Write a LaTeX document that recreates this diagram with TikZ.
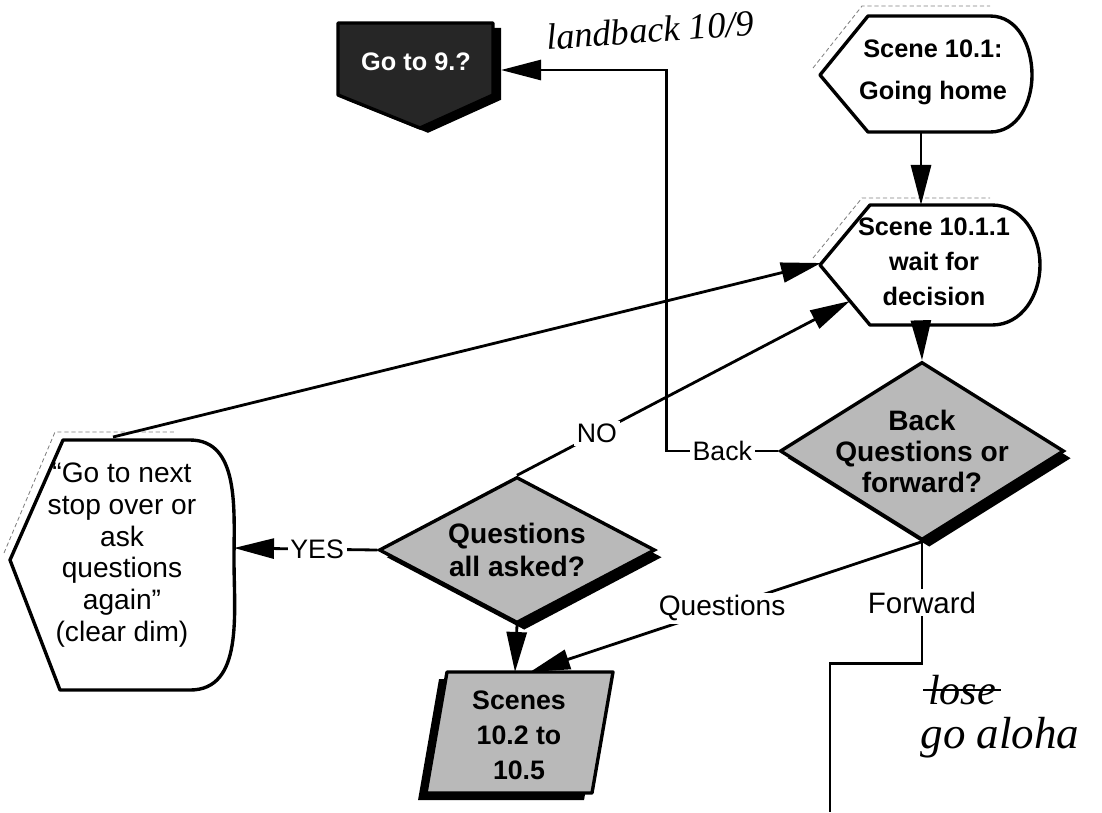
\documentclass[tikz,border=0pt]{standalone}
\usepackage{fontspec}
\setmainfont{Liberation Sans}
\newfontfamily\handfont{Liberation Serif}
\usetikzlibrary{arrows.meta,shapes.geometric,shadows}

\begin{document}
\begin{tikzpicture}[x=0.025cm, y=-0.025cm,
    box/.style={line width=2.4pt, line join=round},
    ghost/.style={gray, densely dashed, line width=0.6pt},
    flow/.style={line width=2pt, -{Triangle[length=1cm,width=0.5cm]}},
    wire/.style={line width=2pt},
    lbl/.style={fill=white, inner sep=2pt, font=\fontsize{19}{21}\selectfont},
    scene/.style={align=center, font=\bfseries\fontsize{18}{30}\selectfont},
    decision/.style={diamond, draw, line width=2.4pt, fill=gray!55, inner sep=0pt,
      general shadow={fill=black, shadow xshift=0.18cm, shadow yshift=-0.18cm}},
    hand/.style={font=\handfont\itshape\fontsize{26}{28}\selectfont}]
  \useasboundingbox (0,0) rectangle (1102,812);

  % off-page connector
  \path[box, draw, fill=black!85, general shadow={fill=black, shadow xshift=0.2cm, shadow yshift=-0.12cm}]
    (338,23) -- (493,23) -- (493,95) -- (420,128) -- (338,95) -- cycle;
  \node[scene, text=white] (goto) at (416,62) {Go to 9.?};
  \coordinate (goto-e) at (501,70);

  % scene 10.1
  \draw[ghost] (813,68) -- (862,6) -- (990,6);
  \draw[box, fill=white] (820,75) -- (868,16) -- (990,16) to[out=0,in=90] (1032,75)
    to[out=-90,in=0] (990,132) -- (868,132) -- cycle;
  \node[scene] (sc1) at (933,72) {Scene 10.1:\\Going home};
  \coordinate (sc1-s) at (921,132);

  % scene 10.1.1
  \draw[ghost] (813,258) -- (862,198) -- (990,198);
  \draw[box, fill=white] (820,265) -- (870,205) -- (992,205) to[out=0,in=90] (1040,265)
    to[out=-90,in=0] (992,325) -- (870,325) -- cycle;
  \node[scene, font=\bfseries\fontsize{18}{25}\selectfont] (sc11) at (934,262) {Scene 10.1.1\\wait for\\decision};
  \coordinate (sc11-n) at (921,205);
  \coordinate (sc11-s) at (921,325);
  \coordinate (sc11-w) at (821,263);
  \coordinate (sc11-sw) at (850,301);

  % ask again
  \draw[ghost] (4,553) -- (55,432) -- (175,432);
  \draw[box, fill=white] (10,560) -- (63,440) -- (190,440) to[out=0,in=90] (234,560)
    to[out=-90,in=0] (190,690) -- (60,690) -- cycle;
  \node[align=center, font=\fontsize{20}{22.5}\selectfont] (again) at (122,555)
    {“Go to next\\stop over or\\ask\\questions\\again”\\(clear dim)};
  \coordinate (again-n) at (113,437);
  \coordinate (again-e) at (234,548);

  % decisions
  \node[decision, minimum width=7.1cm, minimum height=4.45cm] (decide) at (922,451) {};
  \node[scene, font=\bfseries\fontsize{20}{22}\selectfont] at (decide) {Back\\Questions or\\forward?};
  \node[decision, minimum width=6.9cm, minimum height=3.65cm] (asked) at (517,550) {};
  \node[scene, font=\bfseries\fontsize{20}{23}\selectfont] at (asked) {Questions\\all asked?};

  % scenes 10.2 to 10.5
  \path[box, draw, fill=gray!55, general shadow={fill=black, shadow xshift=-0.2cm, shadow yshift=-0.18cm}]
    (447,672) -- (613,672) -- (592,793) -- (426,793) -- cycle;
  \node[scene, font=\bfseries\fontsize{19}{25}\selectfont] (scenes) at (519,735) {Scenes\\10.2 to\\10.5};
  \coordinate (scenes-n) at (515,672);
  \coordinate (scenes-ne) at (530,672);
  \coordinate (fwd-end) at (830,812);

  % connectors
  \draw[flow] (sc1-s) -- (sc11-n);
  \draw[flow] (sc11-s) -- (decide.north);
  \draw[flow] (decide.west) -- node[lbl]{Back} ++(-112,0) |- (goto-e);
  \draw[flow] (decide.south) -- node[lbl, pos=.51, font=\fontsize{20}{22}\selectfont]{Questions} (scenes-ne);
  \draw[wire] (decide.south) -- node[lbl, font=\fontsize{21}{23}\selectfont]{Forward} ++(0,122) -| (fwd-end);
  \draw[flow] (asked.north) -- node[lbl, pos=.24]{NO} (sc11-sw);
  \draw[flow] (asked.west) -- node[lbl, pos=.42]{YES} (again-e);
  \draw[flow] (asked.south) -- (scenes-n);
  \draw[flow] (again-n) -- (sc11-w);

  % pencil notes
  \node[hand, rotate=4] (note) at (650,30) {landback 10/9};
  \node[hand, font=\handfont\itshape\fontsize{30}{32}\selectfont] (lose) at (962,690) {lose};
  \draw[line width=1.6pt] (lose.west) -- (lose.east);
  \node[hand, font=\handfont\itshape\fontsize{32}{34}\selectfont] (aloha) at (1000,738) {go aloha};
\end{tikzpicture}
\end{document}
